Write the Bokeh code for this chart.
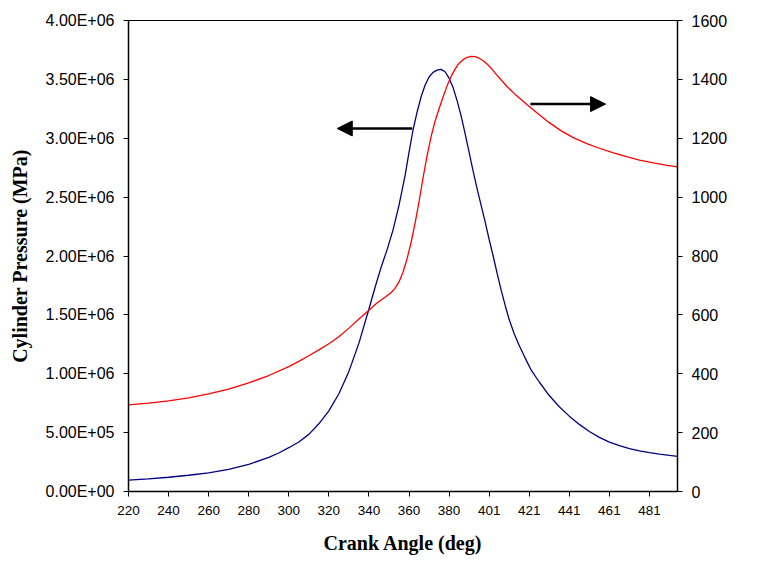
import numpy as np
from bokeh.plotting import figure
from bokeh.models import Range1d, LinearAxis, FixedTicker, Arrow, NormalHead, Label
from bokeh.embed import file_html
from bokeh.resources import INLINE

# Cylinder pressure trace (crank angle in deg, pressure in Pa)
pressure_angle = [220, 230, 240, 250, 260, 270, 280, 290, 295, 300, 305, 310, 315,
                  320, 325, 330, 335, 340, 343, 346, 349, 352, 355, 358, 360, 362,
                  364, 366, 368, 370, 372, 374, 376, 378, 380, 382, 384, 386, 388,
                  390, 392, 394, 396, 398, 400, 402, 404, 406, 408, 410, 412.5, 415,
                  417.5, 421, 425, 430, 435, 440, 445, 450, 455, 460, 465, 470, 475,
                  480, 485, 490, 494]
pressure = [9.6e4, 1.08e5, 1.21e5, 1.38e5, 1.59e5, 1.88e5, 2.30e5, 2.90e5, 3.27e5,
            3.72e5, 4.20e5, 4.85e5, 5.75e5, 6.85e5, 8.30e5, 1.02e6, 1.26e6, 1.55e6,
            1.73e6, 1.90e6, 2.05e6, 2.22e6, 2.43e6, 2.68e6, 2.88e6, 3.07e6, 3.22e6,
            3.35e6, 3.45e6, 3.52e6, 3.56e6, 3.578e6, 3.585e6, 3.565e6, 3.51e6, 3.43e6,
            3.32e6, 3.19e6, 3.04e6, 2.88e6, 2.72e6, 2.57e6, 2.43e6, 2.29e6, 2.14e6,
            2.00e6, 1.85e6, 1.71e6, 1.58e6, 1.46e6, 1.34e6, 1.24e6, 1.15e6, 1.03e6,
            9.3e5, 8.15e5, 7.2e5, 6.4e5, 5.7e5, 5.1e5, 4.6e5, 4.2e5, 3.9e5, 3.65e5,
            3.45e5, 3.30e5, 3.18e5, 3.07e5, 2.99e5]

# Cylinder gas temperature trace (crank angle in deg, temperature in K)
temp_angle = [220, 230, 240, 250, 260, 270, 280, 290, 300, 305, 310, 315, 320, 325,
              330, 335, 340, 344, 348, 351, 353, 355, 357, 359, 361, 363, 365, 367,
              369, 371, 373, 375, 377, 379, 381, 383, 385, 387, 389, 391, 393, 395,
              397, 399, 401, 403, 406, 409, 413, 419, 425, 430, 436, 442, 449, 455,
              462, 469, 475, 482, 488, 494]
temperature = [294, 300, 308, 318, 332, 348, 369, 394, 424, 442, 461, 481, 502, 526,
               555, 586, 616, 640, 660, 675, 690, 712, 745, 790, 845, 910, 985, 1065,
               1140, 1205, 1258, 1300, 1340, 1378, 1410, 1435, 1455, 1467, 1475, 1478,
               1477, 1472, 1463, 1452, 1438, 1421, 1398, 1375, 1349, 1314, 1280, 1253,
               1225, 1202, 1181, 1166, 1150, 1137, 1126, 1116, 1109, 1103]

# Axis ticks and their labels
x_ticks = [220, 240, 260, 280, 300, 320, 340, 360, 380, 400, 420, 440, 460, 480]
x_tick_labels = ["220", "240", "260", "280", "300", "320", "340", "360", "380",
                 "401", "421", "441", "461", "481"]
p_ticks = [0, 5e5, 1e6, 1.5e6, 2e6, 2.5e6, 3e6, 3.5e6, 4e6]
p_tick_labels = ["0.00E+00", "5.00E+05", "1.00E+06", "1.50E+06", "2.00E+06",
                 "2.50E+06", "3.00E+06", "3.50E+06", "4.00E+06"]
t_ticks = [0, 200, 400, 600, 800, 1000, 1200, 1400, 1600]

# Direction arrows: (x_start, x_end, y) in crank angle / pressure units
left_arrow = (361.6, 324.2, 3.083e6)
right_arrow = (420.6, 458.1, 3.29e6)

p = figure(width=759, height=563, output_backend="svg", toolbar_location=None,
           x_range=Range1d(220, 494), y_range=Range1d(0, 4e6),
           min_border_left=128, min_border_right=82, min_border_top=20,
           min_border_bottom=72)
p.extra_y_ranges = {"temp": Range1d(0, 1600)}
p.grid.visible = False
p.background_fill_color = "white"
p.border_fill_color = "white"
p.outline_line_color = "black"
p.outline_line_width = 1

p.line(pressure_angle, pressure, line_color="#000080", line_width=1.3)
p.line(temp_angle, temperature, line_color="#FF0000", line_width=1.3,
       y_range_name="temp")

right_axis = LinearAxis(y_range_name="temp")
p.add_layout(right_axis, "right")

axes = [p.xaxis[0], p.yaxis[0], right_axis]
for ax in axes:
    ax.axis_line_color = "black"
    ax.axis_line_width = 1.5
    ax.major_tick_line_color = "black"
    ax.major_tick_line_width = 1
    ax.major_tick_out = 5
    ax.major_tick_in = 0
    ax.minor_tick_line_color = None
    ax.major_label_text_font = "Liberation Sans"
    ax.major_label_text_color = "black"
    ax.major_label_standoff = 9
    ax.axis_label_text_font = "Liberation Serif"
    ax.axis_label_text_font_style = "bold"
    ax.axis_label_text_font_size = "20px"
    ax.axis_label_text_color = "black"

xa = p.xaxis[0]
xa.ticker = FixedTicker(ticks=x_ticks)
xa.major_label_overrides = dict(zip(x_ticks, x_tick_labels))
xa.major_label_text_font_size = "13.5px"
xa.axis_label = "Crank Angle (deg)"
xa.axis_label_standoff = 14

ya = p.yaxis[0]
ya.ticker = FixedTicker(ticks=p_ticks)
ya.major_label_overrides = {float(t): s for t, s in zip(p_ticks, p_tick_labels)}
ya.major_label_text_font_size = "16px"
ya.axis_label = "Cylinder Pressure (MPa)"
ya.axis_label_standoff = 12

right_axis.ticker = FixedTicker(ticks=t_ticks)
right_axis.major_label_text_font_size = "16px"

# Right-hand title, reading bottom to top like the left one
p.add_layout(Label(x=617, y=233, x_units="screen", y_units="screen",
                   text="Cylinder Temperature (K)", angle=np.pi / 2,
                   text_align="center", text_baseline="middle",
                   text_font="Liberation Serif", text_font_style="bold",
                   text_font_size="20px", text_color="black"))

for xs, xe, yy in (left_arrow, right_arrow):
    p.add_layout(Arrow(end=NormalHead(size=15, fill_color="black", line_color="black"),
                       x_start=xs, y_start=yy, x_end=xe, y_end=yy,
                       line_color="black", line_width=2.5))

open("out.html", "w").write(file_html(p, INLINE))
